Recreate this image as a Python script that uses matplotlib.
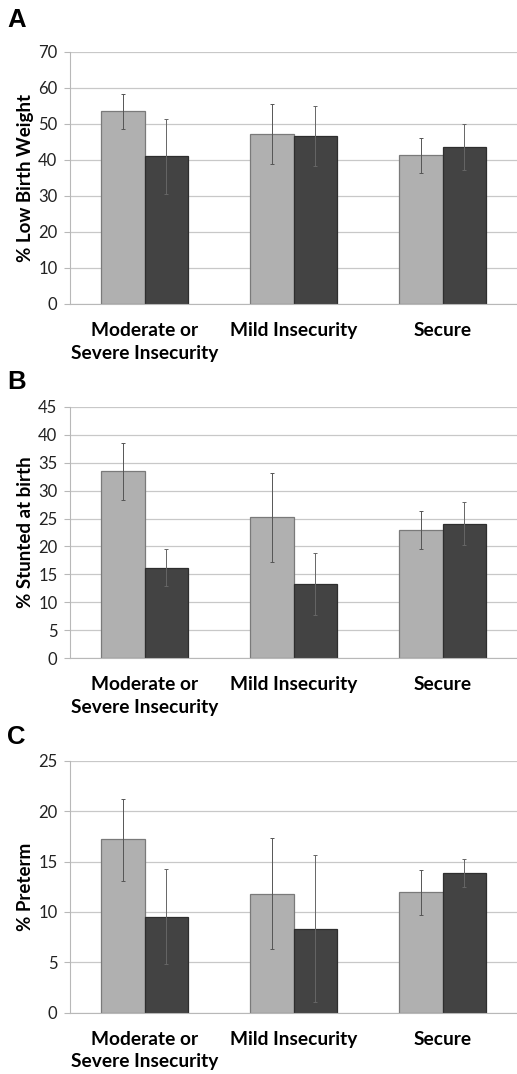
"""Grouped bar charts: birth outcomes by food security status."""
import numpy as np
import matplotlib
matplotlib.use('Agg')
import matplotlib.pyplot as plt

plt.rcParams['font.family'] = ['Lato', 'DejaVu Sans']

categories = ['Moderate or\nSevere Insecurity', 'Mild Insecurity', 'Secure']

# panel A: % low birth weight
lbw_light = [53.6, 47.3, 41.3]
lbw_light_lo = [48.6, 38.9, 36.4]
lbw_light_hi = [58.4, 55.6, 46.2]
lbw_dark = [41.0, 46.7, 43.6]
lbw_dark_lo = [30.5, 38.3, 37.3]
lbw_dark_hi = [51.4, 55.0, 50.0]

# panel B: % stunted at birth
stunt_light = [33.5, 25.2, 23.0]
stunt_light_lo = [28.4, 17.2, 19.5]
stunt_light_hi = [38.5, 33.2, 26.4]
stunt_dark = [16.2, 13.3, 24.1]
stunt_dark_lo = [12.9, 7.7, 20.2]
stunt_dark_hi = [19.5, 18.9, 28.0]

# panel C: % preterm
pre_light = [17.2, 11.8, 12.0]
pre_light_lo = [13.1, 6.3, 9.7]
pre_light_hi = [21.2, 17.3, 14.2]
pre_dark = [9.5, 8.3, 13.9]
pre_dark_lo = [4.8, 1.1, 12.5]
pre_dark_hi = [14.3, 15.6, 15.2]

panels = [
    ('A', '% Low Birth Weight', 70, 10,
     (lbw_light, lbw_light_lo, lbw_light_hi), (lbw_dark, lbw_dark_lo, lbw_dark_hi)),
    ('B', '% Stunted at birth', 45, 5,
     (stunt_light, stunt_light_lo, stunt_light_hi), (stunt_dark, stunt_dark_lo, stunt_dark_hi)),
    ('C', '% Preterm', 25, 5,
     (pre_light, pre_light_lo, pre_light_hi), (pre_dark, pre_dark_lo, pre_dark_hi)),
]

W, H = 517, 1074
fig = plt.figure(figsize=(W / 100, H / 100), dpi=100)

# axes boxes in pixels: (top, bottom)
boxes = [(52, 304), (406.7, 658.3), (760.7, 1012.7)]
letter_y = [20, 382, 737]
left, right = 70, 517

x = np.arange(len(categories))
bw = 0.29


def errs(vals, lo, hi):
    v = np.array(vals)
    return [v - np.array(lo), np.array(hi) - v]


for (letter, ylabel, ymax, step, light, dark), (top, bot), ly in zip(panels, boxes, letter_y):
    ax = fig.add_axes([left / W, 1 - bot / H, (right - left) / W, (bot - top) / H])
    ax.bar(x - bw / 2, light[0], bw, color='#b0b0b0', edgecolor='#7a7a7a', linewidth=0.9, zorder=2)
    ax.bar(x + bw / 2, dark[0], bw, color='#434343', edgecolor='#2e2e2e', linewidth=0.9, zorder=2)
    ax.errorbar(x - bw / 2, light[0], yerr=errs(*light), fmt='none', ecolor='#555555',
                elinewidth=0.7, capsize=1.5, capthick=0.7, zorder=3)
    ax.errorbar(x + bw / 2, dark[0], yerr=errs(*dark), fmt='none', ecolor='#666666',
                elinewidth=0.7, capsize=1.5, capthick=0.7, zorder=3)

    ax.set_xlim(-0.5, 2.5)
    ax.set_ylim(0, ymax)
    ax.set_yticks(np.arange(0, ymax + 1, step))
    ax.yaxis.grid(True, color='#c8c8c8', linewidth=0.9, zorder=0)
    ax.set_axisbelow(True)
    for s in ['top', 'right']:
        ax.spines[s].set_visible(False)
    ax.spines['left'].set_color('#b8b8b8')
    ax.spines['bottom'].set_color('#b8b8b8')
    ax.tick_params(axis='y', length=4, color='#b8b8b8', labelsize=12, pad=5, labelcolor='#222222')
    ax.tick_params(axis='x', length=0, pad=13)
    ax.set_xticks(x)
    ax.set_xticklabels(categories, fontsize=13.8, fontweight='bold', linespacing=1.4)
    ax.set_ylabel(ylabel, fontsize=13.5, fontweight='bold', labelpad=3)

    fig.text(7 / W, 1 - ly / H, letter, fontsize=18.5, fontweight='bold',
             family=['Liberation Sans', 'DejaVu Sans'], va='center', ha='left')

fig.savefig('out.png', dpi=100)
